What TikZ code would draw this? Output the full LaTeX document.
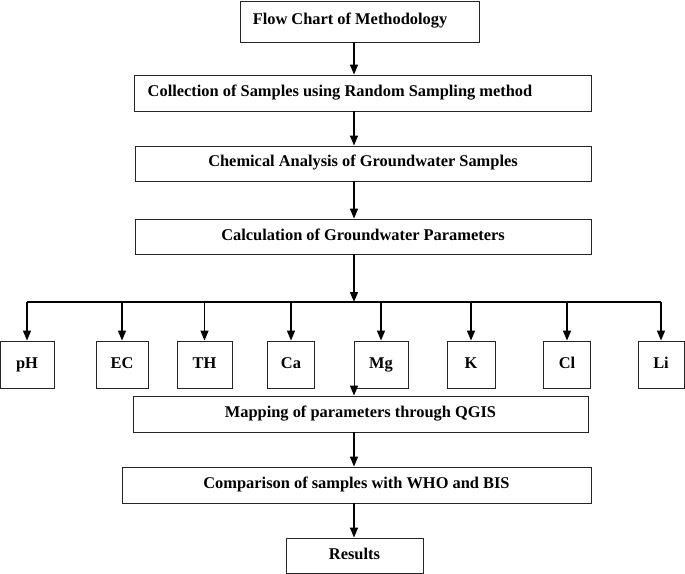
\documentclass[tikz,border=0pt]{standalone}
\usepackage{fontspec}
\setmainfont{Liberation Serif}
\usetikzlibrary{arrows.meta}
\begin{document}
\begin{tikzpicture}
[
    x=1bp, y=-1bp,
    stage/.style={rectangle,draw=black!85,line width=0.9bp,inner sep=0pt,minimum height=35bp,text height=11bp,text depth=4bp,font=\fontsize{16.4bp}{19bp}\selectfont\bfseries},
    param/.style={stage,minimum height=47bp},
    flow/.style={line width=1.4bp,-{Triangle[width=8bp,length=10bp]}},
]
\useasboundingbox (0,0) rectangle (685,574);

\coordinate (axis) at (354,0);
\coordinate (bus) at (354,302);

\node at (359.5,19.5) [stage,minimum width=239bp,minimum height=41bp,yshift=-2bp] (title) {Flow Chart of Methodology\hspace*{19bp}};
\node at (362.5,93) [stage,minimum width=457bp,minimum height=36bp] (collect) {Collection of Samples using Random Sampling method\hspace*{45bp}};
\node at (363,163.5) [stage,minimum width=456bp] (chem) {Chemical Analysis of Groundwater Samples};
\node at (363,236.5) [stage,minimum width=456bp] (calc) {Calculation of Groundwater Parameters};

\node at (27,364.5) [param,minimum width=54bp] (ph) {pH};
\node at (122,364.5) [param,minimum width=52bp] (ec) {EC};
\node at (204.5,364.5) [param,minimum width=55bp] (th) {TH};
\node at (291,364.5) [param,minimum width=47.5bp] (ca) {Ca};
\node at (381,364.5) [param,minimum width=54bp] (mg) {Mg};
\node at (471,364.5) [param,minimum width=48bp] (k) {K};
\node at (567,364.5) [param,minimum width=47bp] (cl) {Cl};
\node at (661,364.5) [param,minimum width=46bp] (li) {Li};

\node at (360.5,414) [stage,minimum width=455bp,minimum height=36bp] (map) {Mapping of parameters through QGIS};
\node at (356.5,485) [stage,minimum width=469bp,minimum height=36bp] (comp) {Comparison of samples with WHO and BIS};
\node at (354.5,555.5) [stage,minimum width=137bp] (res) {Results};

\draw[flow] (title.south -| axis) -- (collect.north -| axis);
\draw[flow] (collect.south -| axis) -- (chem.north -| axis);
\draw[flow] (chem.south -| axis) -- (calc.north -| axis);
\draw[flow] (calc.south -| axis) -- (bus);

\draw[line width=1.4bp] (ph.north |- bus) -- (li.north |- bus);
\foreach \p in {ph,ec,th,ca,mg,k,cl,li}
    \draw[flow] (\p.north |- bus) -- (\p.north);

\draw[flow] (mg.south -| axis) -- (map.north -| axis);
\draw[flow] (map.south -| axis) -- (comp.north -| axis);
\draw[flow] (comp.south -| axis) -- (res.north -| axis);
\end{tikzpicture}
\end{document}
